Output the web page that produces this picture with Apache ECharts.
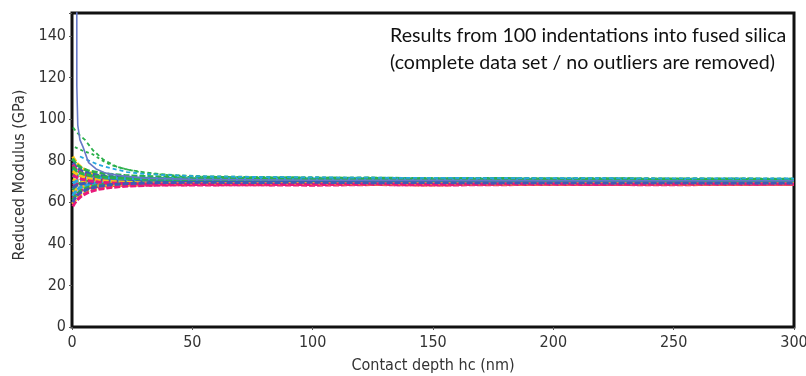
<!DOCTYPE html>
<html>
<head>
<meta charset="utf-8">
<script src="https://cdn.jsdelivr.net/npm/echarts@6/dist/echarts.min.js"></script>
<style>
  html, body { margin: 0; padding: 0; background: #fff; }
  #chart { width: 806px; height: 376px; }
</style>
</head>
<body>
<div id="chart"></div>
<script>
// contact depth grid (nm) shared by the bulk of the runs
const depthNm = [0.3, 1, 2, 4, 7, 11, 16, 22, 30, 40, 50, 75, 100, 125, 150, 175, 200, 225, 250, 275, 300];

// reduced modulus (GPa) per indentation, grouped by plot colour
const runsGreen = [
  [81, 79.5, 78, 76.4, 75, 74.2, 73.4, 72.8, 72.4, 72.1, 71.9, 71.8, 71.5, 71.6, 71.3, 71.4, 71.2, 71.3, 71.1, 71.2, 71.0],
  [66, 67.2, 68.1, 69.5, 70.4, 71.0, 71.3, 71.6, 71.4, 71.5, 71.2, 71.4, 70.9, 71.1, 71.0, 70.8, 71.0, 70.9, 70.7, 70.9, 70.8],
  [74, 73.6, 73.1, 72.5, 72.0, 71.6, 71.2, 70.9, 70.7, 70.6, 70.4, 70.5, 70.3, 70.4, 70.2, 70.3, 70.1, 70.3, 70.2, 70.1, 70.2],
  [61, 62.4, 64.0, 65.8, 67.2, 68.2, 68.9, 69.4, 69.8, 70.0, 70.1, 69.9, 70.0, 69.8, 69.9, 69.7, 69.9, 69.8, 69.7, 69.8, 69.9],
  [77, 76.2, 75.0, 73.9, 73.0, 72.3, 71.9, 71.5, 71.2, 71.1, 70.9, 71.0, 70.8, 70.9, 70.7, 70.8, 70.6, 70.7, 70.6, 70.5, 70.6]
];
const runsBlue = [
  [70, 70.3, 70.6, 70.8, 70.9, 70.7, 70.6, 70.4, 70.3, 70.2, 70.0, 70.1, 69.9, 70.0, 69.8, 69.9, 69.7, 69.8, 69.7, 69.6, 69.7],
  [64, 65.1, 66.3, 67.5, 68.4, 69.0, 69.4, 69.6, 69.8, 69.7, 69.6, 69.7, 69.5, 69.6, 69.4, 69.5, 69.3, 69.5, 69.4, 69.3, 69.4],
  [79, 78.0, 76.6, 75.0, 73.8, 72.9, 72.2, 71.7, 71.3, 71.0, 70.8, 70.9, 70.6, 70.7, 70.5, 70.6, 70.4, 70.5, 70.3, 70.4, 70.3],
  [67, 67.6, 68.2, 68.9, 69.4, 69.8, 70.1, 70.3, 70.4, 70.3, 70.2, 70.3, 70.1, 70.2, 70.0, 70.1, 69.9, 70.0, 69.9, 70.0, 69.9],
  [73, 72.8, 72.3, 71.7, 71.1, 70.6, 70.2, 69.9, 69.7, 69.6, 69.5, 69.4, 69.5, 69.3, 69.4, 69.3, 69.2, 69.3, 69.2, 69.3, 69.2],
  [60, 61.5, 63.2, 65.0, 66.5, 67.6, 68.4, 68.9, 69.3, 69.5, 69.6, 69.5, 69.6, 69.4, 69.5, 69.3, 69.4, 69.3, 69.4, 69.2, 69.3]
];
const runsCyan = [
  [72, 72.3, 72.6, 72.7, 72.5, 72.2, 71.9, 71.7, 71.5, 71.4, 71.3, 71.4, 71.2, 71.3, 71.1, 71.2, 71.0, 71.1, 70.9, 71.0, 70.9],
  [76, 75.4, 74.5, 73.4, 72.5, 71.8, 71.2, 70.8, 70.5, 70.4, 70.2, 70.3, 70.1, 70.2, 70.0, 70.1, 69.9, 70.1, 70.0, 69.9, 70.0],
  [63, 64.4, 65.9, 67.4, 68.6, 69.5, 70.1, 70.5, 70.8, 70.9, 70.8, 70.9, 70.7, 70.8, 70.6, 70.7, 70.5, 70.6, 70.5, 70.4, 70.5],
  [69, 69.6, 70.2, 70.9, 71.4, 71.6, 71.5, 71.4, 71.2, 71.1, 71.0, 70.9, 71.0, 70.8, 70.9, 70.7, 70.8, 70.6, 70.7, 70.6, 70.7]
];
const runsGrey = [
  [70, 69.8, 69.7, 69.6, 69.6, 69.5, 69.6, 69.5, 69.7, 69.6, 69.5, 69.6, 69.4, 69.5, 69.6, 69.4, 69.5, 69.4, 69.5, 69.6, 69.5]
];
const runsYellow = [
  [82, 80.6, 78.8, 76.6, 74.5, 72.8, 71.6, 70.7, 70.0, 69.6, 69.3, 69.1, 69.2, 69.0, 69.1, 68.9, 69.0, 68.8, 68.9, 68.8, 68.9],
  [65, 65.8, 66.6, 67.4, 67.9, 68.2, 68.4, 68.5, 68.6, 68.7, 68.6, 68.7, 68.5, 68.6, 68.4, 68.6, 68.5, 68.7, 68.6, 68.7, 68.8],
  [71, 70.8, 70.4, 70.0, 69.6, 69.4, 69.3, 69.2, 69.1, 69.0, 69.1, 68.9, 69.0, 68.8, 68.9, 68.8, 68.9, 68.7, 68.8, 68.9, 68.8],
  [59, 60.4, 62.1, 64.0, 65.6, 66.7, 67.5, 68.1, 68.5, 68.8, 69.0, 69.2, 69.1, 69.3, 69.2, 69.3, 69.1, 69.2, 69.1, 69.2, 69.1],
  [75, 74.4, 73.5, 72.4, 71.4, 70.6, 70.0, 69.6, 69.3, 69.1, 69.0, 68.9, 69.0, 68.8, 68.9, 68.7, 68.8, 68.9, 68.7, 68.8, 68.9]
];
const runsMagenta = [
  [62, 63.0, 64.3, 65.8, 66.9, 67.6, 68.0, 68.2, 68.3, 68.4, 68.3, 68.4, 68.2, 68.5, 68.3, 68.4, 68.6, 68.5, 68.4, 68.6, 68.7],
  [68, 68.3, 68.6, 68.9, 69.0, 69.1, 69.0, 68.9, 68.8, 68.9, 68.7, 68.8, 68.9, 68.7, 68.8, 68.9, 68.8, 68.7, 68.9, 68.8, 68.9],
  [78, 77.0, 75.6, 74.0, 72.5, 71.3, 70.4, 69.8, 69.4, 69.2, 69.3, 69.1, 69.2, 69.0, 69.1, 69.0, 68.9, 69.1, 69.0, 68.9, 69.0],
  [58, 59.3, 61.0, 63.1, 64.9, 66.2, 67.1, 67.7, 68.1, 68.3, 68.5, 68.4, 68.6, 68.5, 68.4, 68.6, 68.5, 68.6, 68.7, 68.6, 68.8],
  [73, 72.6, 71.9, 71.1, 70.3, 69.7, 69.3, 69.0, 68.8, 68.7, 68.8, 68.6, 68.7, 68.8, 68.6, 68.7, 68.8, 68.6, 68.7, 68.8, 68.7]
];

// the runs that start well above the bulk
const spikeDepth = [2.0, 2.0, 2.4, 3.3, 4.6, 6.9, 10, 14, 20, 30, 50, 100, 150, 200, 250, 300];
const spikeMod   = [190, 116, 97, 90, 86.5, 79, 76, 74, 72.8, 71.6, 71.0, 70.6, 70.5, 70.4, 70.3, 70.3];
const highGreenDepth = [0.4, 2, 5.4, 8.7, 13, 18.7, 24, 29.5, 36, 43.6, 55, 75, 100, 150, 200, 250, 300];
const highGreenMod   = [96, 93.5, 90, 85, 80.5, 77, 75.5, 74.5, 73.6, 73, 72.5, 72.2, 71.9, 71.6, 71.4, 71.3, 71.2];
const midGreenDepth = [1.2, 4, 8.7, 12, 15.8, 22, 30, 40, 55, 80, 120, 180, 240, 300];
const midGreenMod   = [86.5, 85, 83, 80.5, 78, 76, 74, 73, 72.3, 72, 71.7, 71.5, 71.4, 71.3];
const highCyanDepth = [3.3, 7, 11, 15.8, 22.9, 30, 40, 55, 80, 120, 180, 240, 300];
const highCyanMod   = [82, 80, 78, 76.5, 74.5, 73.6, 73, 72.4, 72.1, 71.8, 71.6, 71.5, 71.4];

const xTicks = [0, 50, 100, 150, 200, 250, 300];
const yTicks = [0, 20, 40, 60, 80, 100, 120, 140];

const axisFont = "'DejaVu Sans Condensed', 'DejaVu Sans', sans-serif";
const colors = {
  green: '#2bb04a', blue: '#3d5cb4', cyan: '#27a6df', grey: '#9a9a86',
  yellow: '#fcc314', magenta: '#e8197b', spike: '#6678c6'
};

const zip = (xs, ys) => xs.map((x, i) => [x, ys[i]]);

// interleave the colour groups so no single colour sits on top of the band
const groups = [
  [runsBlue, colors.blue], [runsYellow, colors.yellow], [runsGreen, colors.green],
  [runsMagenta, colors.magenta], [runsCyan, colors.cyan], [runsGrey, colors.grey]
];
const series = [];
for (let i = 0; i < 6; i++) {
  groups.forEach(([runs, color]) => {
    if (!runs[i]) return;
    series.push({
      type: 'line',
      data: zip(depthNm, runs[i]),
      showSymbol: false,
      silent: true,
      lineStyle: { color, width: 3, type: [6, 2] }
    });
  });
}

series.push(
  { type: 'line', data: zip(highGreenDepth, highGreenMod), showSymbol: false,
    lineStyle: { color: colors.green, width: 1.8, type: [4, 3] } },
  { type: 'line', data: zip(midGreenDepth, midGreenMod), showSymbol: false,
    lineStyle: { color: colors.green, width: 1.8, type: [3, 3] } },
  { type: 'line', data: zip(highCyanDepth, highCyanMod), showSymbol: false,
    lineStyle: { color: colors.cyan, width: 1.8, type: [4, 3] } },
  { type: 'line', data: zip(spikeDepth, spikeMod), showSymbol: false,
    lineStyle: { color: colors.spike, width: 1.6 } }
);

const chart = echarts.init(document.getElementById('chart'));
chart.setOption({
  animation: false,
  title: {
    text: 'Results from 100 indentations into fused silica\n(complete data set / no outliers are removed)',
    left: 385,
    top: 17,
    textStyle: { fontFamily: 'Lato, sans-serif', fontWeight: 'normal', fontSize: 19.6, lineHeight: 27, color: '#111' }
  },
  grid: {
    left: 72, right: 12, top: 13, bottom: 49,
    outerBoundsMode: 'none',
    show: true, borderColor: '#111', borderWidth: 3
  },
  xAxis: {
    type: 'value',
    min: 0, max: 300, interval: 50,
    name: 'Contact depth hc (nm)',
    nameLocation: 'middle',
    nameGap: 31,
    nameTextStyle: { fontFamily: axisFont, fontSize: 16, color: '#333' },
    axisLine: { show: false },
    axisTick: { show: true, length: 3, lineStyle: { color: '#555' } },
    axisLabel: {
      margin: 8, fontFamily: axisFont, fontSize: 16, color: '#333',
      formatter: v => xTicks.includes(v) ? String(v) : ''
    },
    splitLine: { show: false }
  },
  yAxis: {
    type: 'value',
    min: 0, max: 151, interval: 20,
    name: 'Reduced Modulus (GPa)',
    nameLocation: 'middle',
    nameGap: 44,
    nameTextStyle: { fontFamily: axisFont, fontSize: 16, color: '#333', padding: [0, 10, 0, 0] },
    axisLine: { show: false },
    axisTick: { show: true, length: 3, lineStyle: { color: '#555' } },
    axisLabel: {
      margin: 6, fontFamily: axisFont, fontSize: 16, color: '#333',
      formatter: v => yTicks.includes(v) ? String(v) : ''
    },
    splitLine: { show: false }
  },
  series
});
</script>
</body>
</html>
